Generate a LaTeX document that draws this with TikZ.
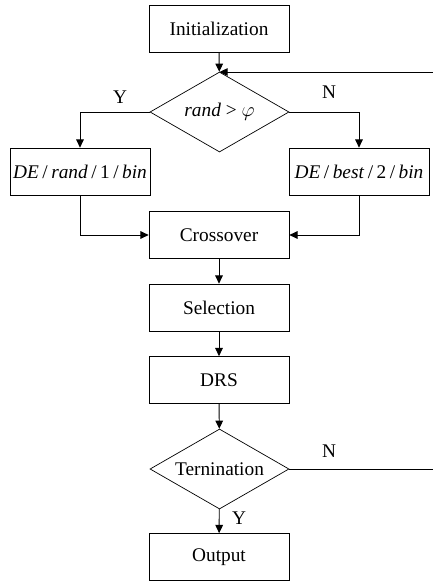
\documentclass[tikz,border=0pt]{standalone}
\usepackage{fontspec}
\setmainfont{Liberation Serif}
\usetikzlibrary{shapes.geometric,arrows.meta}
\newcommand{\barre}{\hspace{0.18em}/\hspace{0.18em}}
\begin{document}
\begin{tikzpicture}[x=0.03cm,y=-0.03cm]
\tikzset{boite/.style={draw, line width=0.6pt, minimum width=4.2cm, minimum height=1.41cm, inner sep=0pt, font=\fontsize{16.5}{19}\selectfont}}
\tikzset{losange/.style={draw, diamond, aspect=1.74, line width=0.6pt, minimum width=4.17cm, minimum height=2.4cm, inner sep=0pt, font=\fontsize{16.5}{19}\selectfont}}
\tikzset{fleche/.style={line width=0.8pt, -{Triangle[length=7pt,width=6.5pt]}}}
\tikzset{trait/.style={line width=0.8pt}}
\tikzset{etiq/.style={font=\fontsize{16.5}{19}\selectfont, inner sep=0pt}}
\useasboundingbox (0,0) rectangle (433,582);
\node[boite] (Init) at (219,28.5) {Initialization};
\node[losange] (Choix) at (219.5,112) {\textit{rand} > $\varphi$};
\node[boite] (Rand) at (80,171.5) {\textit{DE}\barre\textit{rand}\barre 1\barre\textit{bin}};
\node[boite] (Best) at (359,171.5) {\textit{DE}\barre\textit{best}\barre 2\barre\textit{bin}};
\node[boite] (Cross) at (219,235) {Crossover};
\node[boite] (Sel) at (219,307.5) {Selection};
\node[boite] (DRS) at (219,380) {DRS};
\node[losange] (Term) at (219.5,469) {Ternination};
\node[boite] (Out) at (219,557) {Output};
\coordinate (RetourHaut) at (433,72);
\coordinate (RetourBas) at (433,469);
\draw[fleche] (Init) -- (Choix);
\draw[fleche] (Choix.west) -| (Rand.north);
\draw[fleche] (Choix.east) -| (Best.north);
\draw[fleche] (Rand.south) |- (Cross.west);
\draw[fleche] (Best.south) |- (Cross.east);
\draw[fleche] (Cross) -- (Sel);
\draw[fleche] (Sel) -- (DRS);
\draw[fleche] (DRS) -- (Term);
\draw[fleche] (Term) -- (Out);
\draw[trait] (Term.east) -- (RetourBas);
\draw[fleche] (RetourHaut) -- (RetourHaut -| Choix.north);
\node[etiq] (Y1) at (120,97) {Y};
\node[etiq] (N1) at (329,92) {N};
\node[etiq] (N2) at (329,451) {N};
\node[etiq] (Y2) at (239,518) {Y};
\end{tikzpicture}
\end{document}
